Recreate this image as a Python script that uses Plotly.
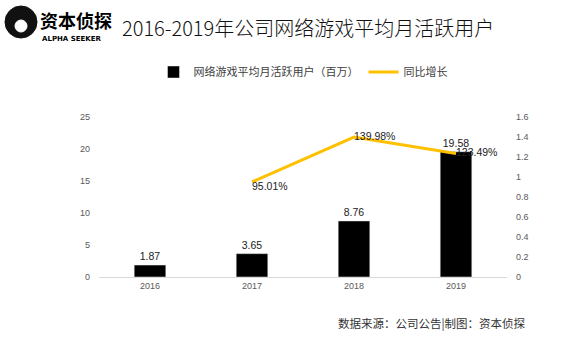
import plotly.graph_objects as go

years = ["2016", "2017", "2018", "2019"]
mau = [1.87, 3.65, 8.76, 19.58]
growth_years = ["2017", "2018", "2019"]
growth = [0.9501, 1.3998, 1.2349]
growth_labels = ["95.01%", "139.98%", "123.49%"]
left_ticks = [0, 5, 10, 15, 20, 25]
right_ticks = [0, 0.2, 0.4, 0.6, 0.8, 1, 1.2, 1.4, 1.6]

W, H = 580, 341
L, R, T, B = 99, 73, 117, 64
PW, PH = W - L - R, H - T - B


def px(x):
    return (x - L) / PW


def py(y):
    return (H - B - y) / PH


CJK = "Noto Sans CJK SC"
fig = go.Figure()
fig.add_trace(go.Bar(
    x=years, y=mau, name="网络游戏平均月活跃用户（百万）",
    marker=dict(color="#000000"), width=0.31,
    text=[f"{v:.2f}" for v in mau], textposition="outside",
    textfont=dict(size=10.5, color="#222", family="Liberation Sans"),
    cliponaxis=False,
))
fig.add_trace(go.Scatter(
    x=growth_years, y=growth, name="同比增长", yaxis="y2",
    mode="lines+text", line=dict(color="#FFC000", width=3),
    text=growth_labels, textposition=["bottom right", "middle right", "middle right"],
    textfont=dict(size=10.5, color="#222", family="Liberation Sans"),
    cliponaxis=False,
))
fig.update_layout(
    width=W, height=H, margin=dict(l=L, r=R, t=T, b=B),
    paper_bgcolor="white", plot_bgcolor="white",
    showlegend=True,
    legend=dict(orientation="h", x=0.5, xanchor="center", y=1 - 72 / H, yanchor="middle",
                yref="container", font=dict(family=CJK, size=11, color="#404040"),
                itemwidth=30),
    xaxis=dict(showgrid=False, showline=True, linecolor="#d9d9d9", linewidth=1,
               tickfont=dict(size=9, color="#595959", family="Liberation Sans"),
               ticks=""),
    yaxis=dict(range=[0, 25], tickvals=left_ticks, showgrid=False, zeroline=False,
               tickfont=dict(size=9, color="#595959", family="Liberation Sans"),
               ticklabelstandoff=8),
    yaxis2=dict(range=[0, 1.6], tickvals=right_ticks, overlaying="y", side="right",
                showgrid=False, zeroline=False,
                tickfont=dict(size=9, color="#595959", family="Liberation Sans"),
                ticklabelstandoff=8),
    font=dict(family=CJK),
)
fig.add_annotation(text="2016-2019年公司网络游戏平均月活跃用户", x=px(120), y=py(27),
                   xref="paper", yref="paper", xanchor="left", yanchor="middle",
                   showarrow=False, font=dict(family=CJK, size=20, color="#111", weight=300))
fig.add_annotation(text="<b>资本侦探</b>", x=px(38), y=py(20),
                   xref="paper", yref="paper", xanchor="left", yanchor="middle",
                   showarrow=False, font=dict(family=CJK, size=18, color="#000"))
fig.add_annotation(text="<b>ALPHA SEEKER</b>", x=px(40), y=py(39),
                   xref="paper", yref="paper", xanchor="left", yanchor="middle",
                   showarrow=False, font=dict(family="DejaVu Sans", size=7, color="#000"))
fig.add_annotation(text="数据来源：公司公告|制图：资本侦探", x=px(528), y=py(323),
                   xref="paper", yref="paper", xanchor="right", yanchor="middle",
                   showarrow=False, font=dict(family=CJK, size=11.5, color="#333"))
# logo emblem (approximation)
fig.add_shape(type="circle", xref="paper", yref="paper",
              x0=px(5), x1=px(37), y0=py(38), y1=py(6),
              fillcolor="#111", line=dict(color="#111", width=1))
fig.add_shape(type="circle", xref="paper", yref="paper",
              x0=px(15), x1=px(27), y0=py(32), y1=py(20),
              fillcolor="white", line=dict(color="white", width=1))
fig.write_html("out.html")
